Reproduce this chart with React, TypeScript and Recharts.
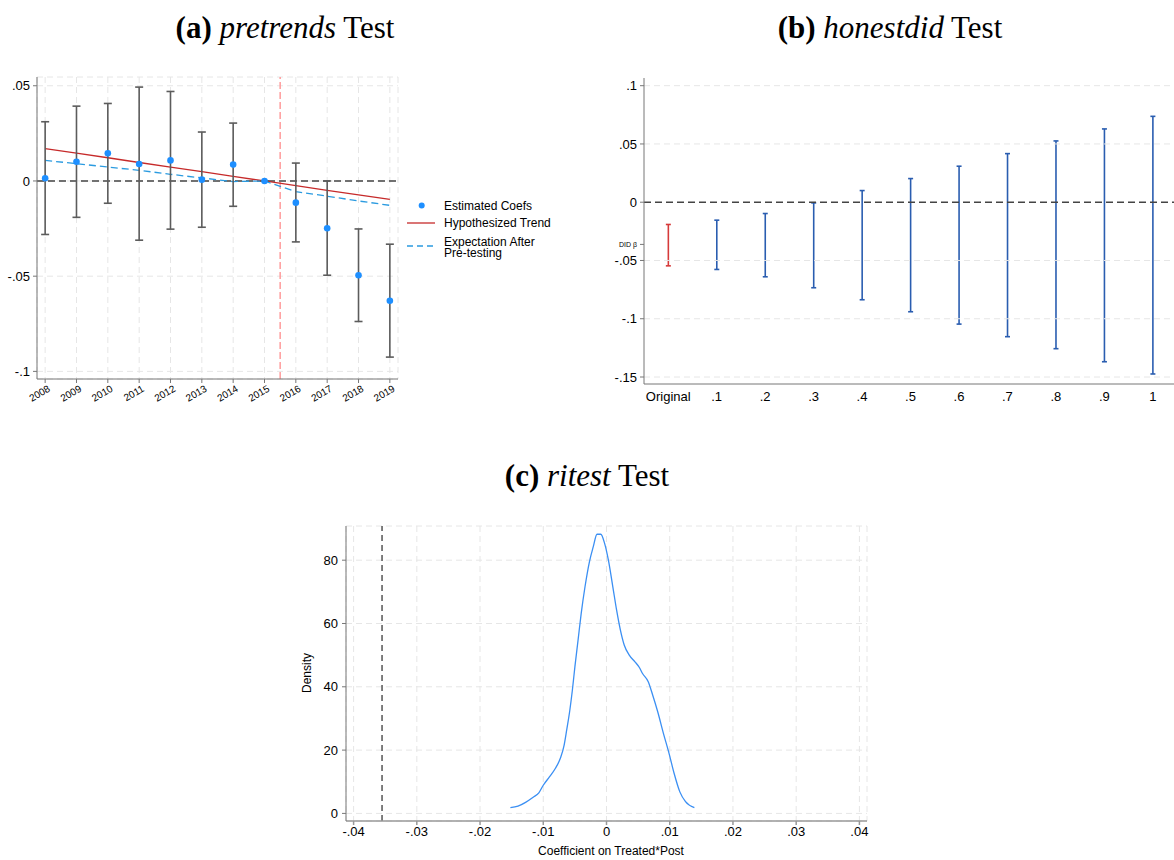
import React from "react";
import {
  Bar,
  CartesianGrid,
  ComposedChart,
  ErrorBar,
  Line,
  ReferenceLine,
  Scatter,
  XAxis,
  YAxis,
} from "recharts";

// (a) pretrends
const years = [2008, 2009, 2010, 2011, 2012, 2013, 2014, 2015, 2016, 2017, 2018, 2019];
const estCoef = [0.0014, 0.0101, 0.0145, 0.0089, 0.0108, 0.0007, 0.0086, 0, -0.0114, -0.0248, -0.0495, -0.0629];
const ciLow = [-0.0281, -0.0191, -0.0117, -0.0311, -0.0253, -0.0243, -0.0133, 0, -0.032, -0.0495, -0.0738, -0.0925];
const ciHigh = [0.0311, 0.0393, 0.0407, 0.0493, 0.047, 0.0257, 0.0304, 0, 0.0094, 0, -0.0252, -0.0332];
const hypTrend = [0.017, 0.0146, 0.0122, 0.0097, 0.0073, 0.0049, 0.0024, 0, -0.0024, -0.0049, -0.0073, -0.0097];
const expectAfter = [0.0108, 0.0091, 0.0073, 0.0056, 0.0035, 0.0016, -0.0003, 0, -0.0056, -0.008, -0.0105, -0.0128];
const yTicksA = [-0.1, -0.05, 0, 0.05];
const treatStart = 2015.5;

// (b) honestdid
const sensLabels = ["Original", ".1", ".2", ".3", ".4", ".5", ".6", ".7", ".8", ".9", "1"];
const sensLow = [-0.0546, -0.0577, -0.064, -0.0734, -0.0837, -0.094, -0.1046, -0.1154, -0.1257, -0.1369, -0.1474];
const sensHigh = [-0.0191, -0.0154, -0.0097, -0.0006, 0.01, 0.0203, 0.0309, 0.0417, 0.0526, 0.0629, 0.0737];
const yTicksB = [-0.15, -0.1, -0.05, 0, 0.05, 0.1];
const didBeta = -0.0362;

// (c) ritest
const riX = [
  -0.0152, -0.014, -0.0128, -0.0116, -0.0107, -0.01, -0.009, -0.0081, -0.0073, -0.0067, -0.0063,
  -0.0058, -0.0054, -0.005, -0.0045, -0.004, -0.0034, -0.0027, -0.0021, -0.0015, -0.0009, -0.0003,
  0.0003, 0.001, 0.0016, 0.0022, 0.0028, 0.0036, 0.0045, 0.0052, 0.0057, 0.0066, 0.0073, 0.0081,
  0.009, 0.0099, 0.0107, 0.0116, 0.0125, 0.0139,
];
const riDensity = [
  1.8, 2.3, 3.5, 5.1, 6.5, 8.9, 11.6, 14.2, 17.4, 21.6, 26.3,
  32.6, 38.9, 46.3, 54.7, 63.2, 71.6, 79.5, 84.2, 88.2, 88.2, 85.3,
  80, 71.6, 64.2, 57.9, 53.2, 50, 47.9, 46.1, 44.2, 41.6, 37.4, 32.1,
  25.3, 18.9, 12.6, 6.8, 3.7, 1.8,
];
const xTicksC = [-0.04, -0.03, -0.02, -0.01, 0, 0.01, 0.02, 0.03, 0.04];
const yTicksC = [0, 20, 40, 60, 80];
const observedCoef = -0.0355;

const sans = "'Liberation Sans', Arial, sans-serif";
const serif = "'Liberation Serif', 'DejaVu Serif', serif";
const gridColor = "#e6e6e6";
const axisColor = "#777";

const fmt = (v: number) => {
  if (v === 0) return "0";
  return String(Number(v.toFixed(4))).replace(/^(-?)0\./, "$1.");
};

const pretrendData = years.map((year, i) => ({
  year,
  coef: estCoef[i],
  err: [estCoef[i] - ciLow[i], ciHigh[i] - estCoef[i]],
  trend: hypTrend[i],
  expect: expectAfter[i],
}));

const honestData = sensLabels.map((label, i) => ({
  label,
  range: [sensLow[i], sensHigh[i]],
}));

const densityData = riX.map((x, i) => ({ x, density: riDensity[i] }));

const YearTick = (props: any) => {
  const { x, y, payload } = props;
  return (
    <text
      transform={`translate(${x + 3},${y + 1}) rotate(-30)`}
      textAnchor="end"
      dy="0.55em"
      fontSize={10}
      fontFamily={sans}
      fill="#000"
    >
      {payload.value}
    </text>
  );
};

const BetaTick = (props: any) => {
  const { x, y, payload } = props;
  const isBeta = Math.abs(payload.value - didBeta) < 1e-6;
  return (
    <text
      x={x}
      y={y}
      dy="0.35em"
      textAnchor="end"
      fontSize={isBeta ? 7 : 13}
      fontFamily={sans}
      fill="#000"
    >
      {isBeta ? "DID β" : fmt(payload.value)}
    </text>
  );
};

const Whisker = (props: any) => {
  const { x, y, width, height, payload } = props;
  const cx = x + width / 2;
  const top = Math.min(y, y + height);
  const bottom = Math.max(y, y + height);
  const color = payload.label === "Original" ? "#d63a3a" : "#2a5db0";
  return (
    <g stroke={color} strokeWidth={1.6}>
      <line x1={cx} x2={cx} y1={top} y2={bottom} />
      <line x1={cx - 2.5} x2={cx + 2.5} y1={top} y2={top} />
      <line x1={cx - 2.5} x2={cx + 2.5} y1={bottom} y2={bottom} />
    </g>
  );
};

const Dot = (props: any) => (
  <circle cx={props.cx} cy={props.cy} r={3.3} fill="#1e8fff" />
);

const Title = ({ cx, cy, label, name }: { cx: number; cy: number; label: string; name: string }) => (
  <div
    style={{
      position: "absolute",
      left: cx - 200,
      top: cy - 17,
      width: 400,
      lineHeight: "34px",
      textAlign: "center",
      fontFamily: serif,
      fontSize: 31,
      color: "#000",
    }}
  >
    <b>{label}</b> <i>{name}</i> Test
  </div>
);

const App: React.FC = () => {
  const tickStyle = { fontSize: 13, fill: "#000", fontFamily: sans };
  return (
    <div
      style={{
        position: "absolute",
        left: 0,
        top: 0,
        width: 1174,
        height: 860,
        overflow: "hidden",
        background: "#fff",
      }}
    >
      <Title cx={285} cy={28} label="(a)" name="pretrends" />
      <Title cx={890} cy={28} label="(b)" name="honestdid" />
      <Title cx={587} cy={476} label="(c)" name="ritest" />

      {/* (a) pretrends */}
      <div style={{ position: "absolute", left: 0, top: 0 }}>
        <ComposedChart
          width={410}
          height={420}
          data={pretrendData}
          margin={{ top: 77, right: 12, left: 0, bottom: 0 }}
        >
          <CartesianGrid stroke={gridColor} strokeDasharray="6 4" />
          <XAxis
            type="number"
            dataKey="year"
            domain={[2007.74, 2019.26]}
            ticks={years}
            allowDataOverflow
            height={41}
            tickSize={4}
            tickMargin={2}
            tick={<YearTick />}
            stroke={axisColor}
            interval={0}
          />
          <YAxis
            type="number"
            domain={[-0.104, 0.0546]}
            ticks={yTicksA}
            allowDataOverflow
            width={37}
            tickSize={4}
            tickMargin={3}
            tickFormatter={fmt}
            tick={tickStyle}
            stroke={axisColor}
            interval={0}
          />
          <ReferenceLine y={0} stroke="#444" strokeWidth={1.5} strokeDasharray="7 4" />
          <ReferenceLine x={treatStart} stroke="#ff9c9c" strokeWidth={1.5} strokeDasharray="7 3" />
          <Line
            dataKey="trend"
            type="linear"
            stroke="#c62a2a"
            strokeWidth={1.3}
            dot={false}
            isAnimationActive={false}
          />
          <Line
            dataKey="expect"
            type="linear"
            stroke="#2b9be0"
            strokeWidth={1.3}
            strokeDasharray="7 4"
            dot={false}
            isAnimationActive={false}
          />
          <Scatter dataKey="coef" shape={<Dot />} isAnimationActive={false}>
            <ErrorBar
              dataKey="err"
              direction="y"
              width={4}
              stroke="#5c5c5c"
              strokeWidth={1.6}
              isAnimationActive={false}
            />
          </Scatter>
        </ComposedChart>
      </div>

      {/* (a) legend */}
      <svg
        width={180}
        height={80}
        style={{ position: "absolute", left: 400, top: 190 }}
        fontFamily={sans}
        fontSize={12}
      >
        <circle cx={21.7} cy={15.5} r={3} fill="#1e8fff" />
        <text x={44} y={15.5} dy="0.35em">Estimated Coefs</text>
        <line x1={7} x2={35} y1={33} y2={33} stroke="#c62a2a" strokeWidth={1.3} />
        <text x={44} y={33} dy="0.35em">Hypothesized Trend</text>
        <line x1={7} x2={35} y1={56} y2={56} stroke="#2b9be0" strokeWidth={1.3} strokeDasharray="6 4" />
        <text x={44} y={51.5} dy="0.35em">Expectation After</text>
        <text x={44} y={63.2} dy="0.35em">Pre-testing</text>
      </svg>

      {/* (b) honestdid */}
      <div style={{ position: "absolute", left: 580, top: 0 }}>
        <ComposedChart
          width={600}
          height={420}
          data={honestData}
          margin={{ top: 78, right: 3, left: 0, bottom: 0 }}
        >
          <XAxis
            type="category"
            dataKey="label"
            height={36}
            tickSize={0}
            tickMargin={8}
            tick={tickStyle}
            stroke={axisColor}
            interval={0}
          />
          <YAxis
            type="number"
            domain={[-0.156, 0.1066]}
            ticks={[...yTicksB, didBeta]}
            allowDataOverflow
            width={64}
            tickSize={4}
            tickMargin={3}
            tick={<BetaTick />}
            stroke={axisColor}
            interval={0}
          />
          {yTicksB
            .filter((v) => v !== 0)
            .map((v) => (
              <ReferenceLine key={v} y={v} stroke={gridColor} strokeDasharray="6 4" />
            ))}
          <ReferenceLine y={0} stroke="#444" strokeWidth={1.5} strokeDasharray="7 4" />
          <Bar dataKey="range" shape={<Whisker />} isAnimationActive={false} />
        </ComposedChart>
      </div>

      {/* (c) ritest */}
      <div style={{ position: "absolute", left: 290, top: 500 }}>
        <ComposedChart
          width={600}
          height={360}
          data={densityData}
          margin={{ top: 26, right: 23, left: 0, bottom: 0 }}
        >
          <CartesianGrid stroke={gridColor} strokeDasharray="6 4" />
          <XAxis
            type="number"
            dataKey="x"
            domain={[-0.0412, 0.0412]}
            ticks={xTicksC}
            allowDataOverflow
            height={39}
            tickSize={4}
            tickMargin={2}
            tickFormatter={fmt}
            tick={tickStyle}
            stroke="#999"
            strokeWidth={1.5}
            interval={0}
          />
          <YAxis
            type="number"
            domain={[-2.4, 90.8]}
            ticks={yTicksC}
            allowDataOverflow
            width={56}
            tickSize={4}
            tickMargin={4}
            tick={tickStyle}
            stroke={axisColor}
            interval={0}
          />
          <ReferenceLine x={observedCoef} stroke="#555" strokeWidth={1.5} strokeDasharray="6 4" />
          <Line
            dataKey="density"
            type="monotone"
            stroke="#3b8ff3"
            strokeWidth={1.3}
            dot={false}
            isAnimationActive={false}
          />
        </ComposedChart>
      </div>
      <div
        style={{
          position: "absolute",
          left: 411,
          top: 843,
          width: 400,
          textAlign: "center",
          fontFamily: sans,
          fontSize: 12,
          lineHeight: "16px",
        }}
      >
        Coefficient on Treated*Post
      </div>
      <div
        style={{
          position: "absolute",
          left: 307 - 40,
          top: 673 - 8,
          width: 80,
          textAlign: "center",
          fontFamily: sans,
          fontSize: 12,
          lineHeight: "16px",
          transform: "rotate(-90deg)",
        }}
      >
        Density
      </div>
    </div>
  );
};

export default App;
